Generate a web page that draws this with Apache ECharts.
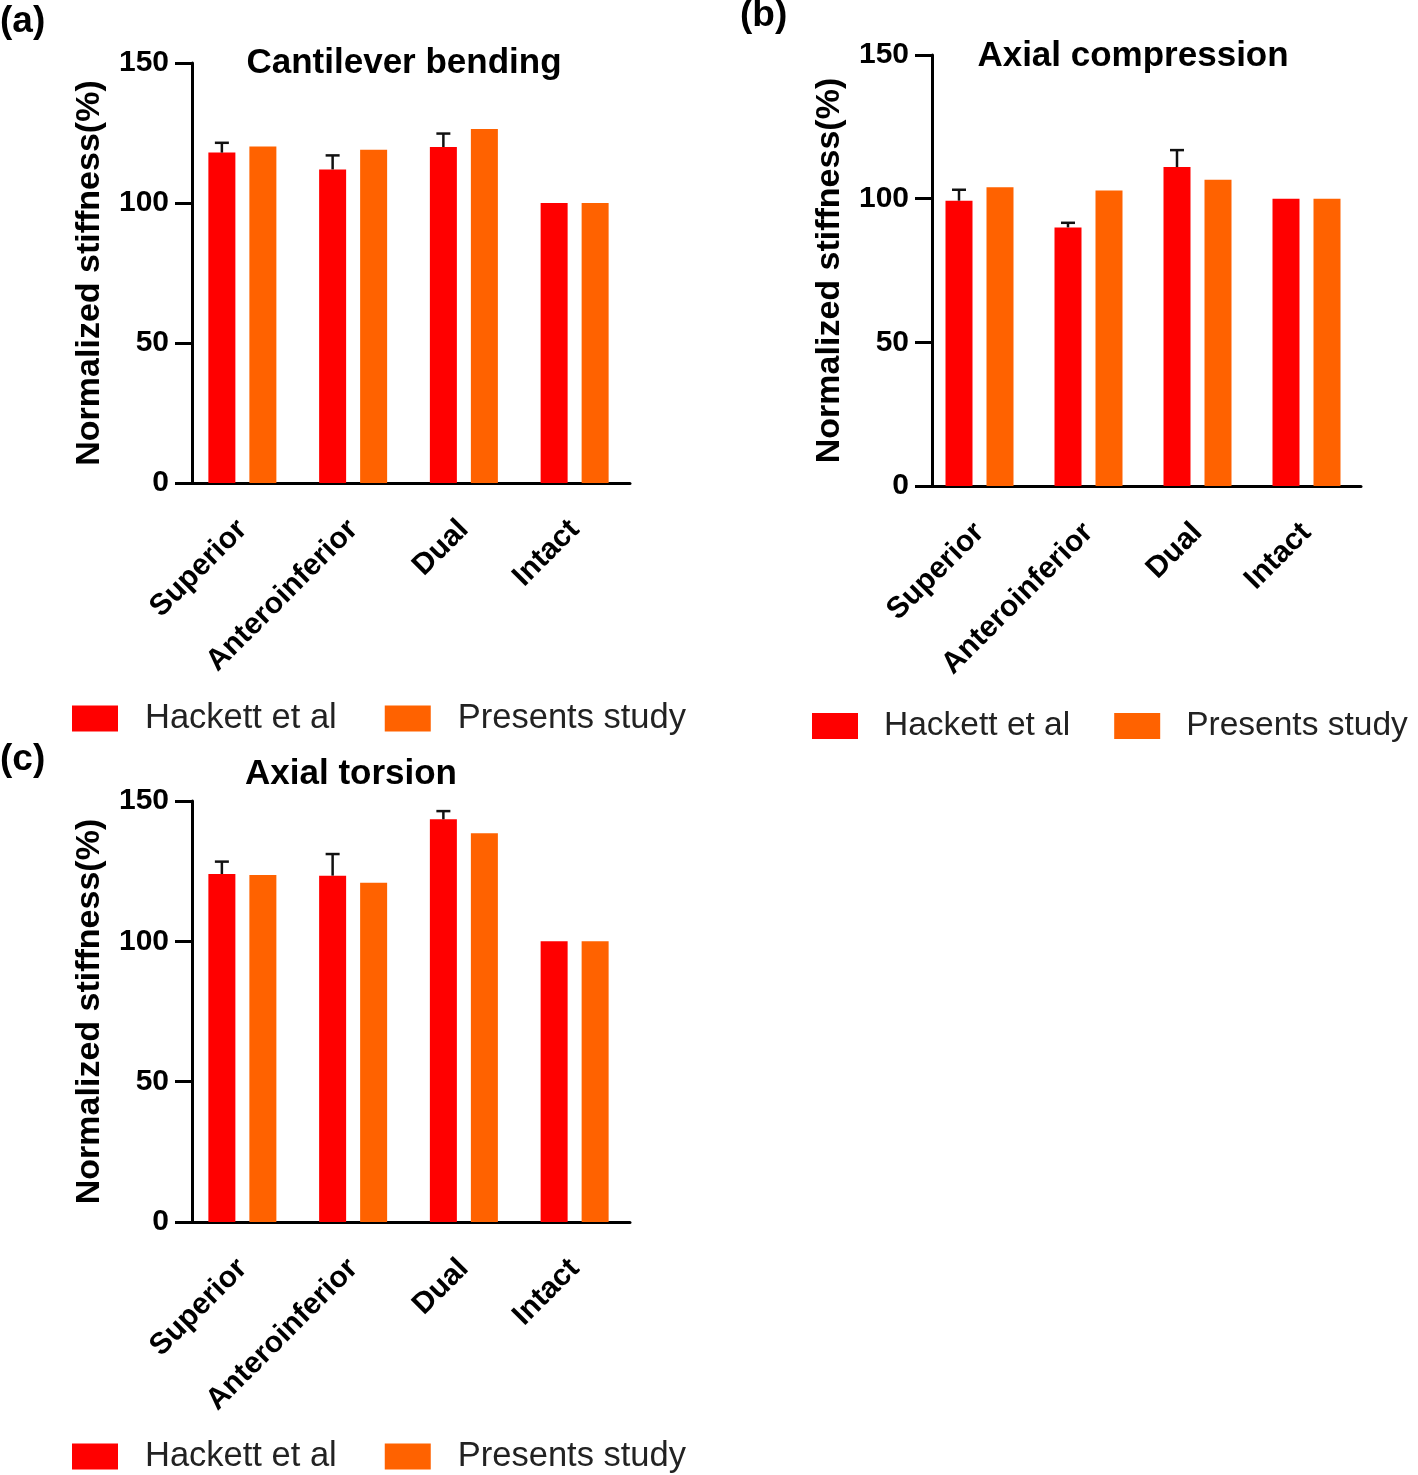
<!DOCTYPE html>
<html><head><meta charset="utf-8">
<script src="https://cdn.jsdelivr.net/npm/echarts@6/dist/echarts.min.js"></script>
<style>html,body{margin:0;padding:0;background:#fff}#c{width:1418px;height:1475px}</style>
</head><body><div id="c"></div>
<script>
const categories = ['Superior', 'Anteroinferior', 'Dual', 'Intact'];
const yTicks = [0, 50, 100, 150];
const seriesNames = ['Hackett et al', 'Presents study'];
const panelTitles = ['Cantilever bending', 'Axial compression', 'Axial torsion'];
const panelLetters = ['(a)', '(b)', '(c)'];
const yName = 'Normalized stiffness(%)';

const bendHackett = [118, 112, 120, 100];
const bendHackettErr = [3.5, 5, 4.8, 0];
const bendPresent = [120.2, 119, 126.4, 100];

const compHackett = [99.3, 90, 111, 100];
const compHackettErr = [3.8, 1.6, 5.9, 0];
const compPresent = [104, 102.8, 106.6, 100];

const torsHackett = [124, 123.4, 143.5, 100];
const torsHackettErr = [4.4, 7.7, 2.9, 0];
const torsPresent = [123.6, 120.9, 138.5, 100];

const RED = '#ff0000', ORANGE = '#ff6200';
const FONT = '"Liberation Sans", Arial, sans-serif';
const BAR_W = 27, BAR_GAP = 14;

const panels = [
  {h: bendHackett, e: bendHackettErr, p: bendPresent, grid: {left: 187, top: 63, width: 443, height: 420}, yOff: -5},
  {h: compHackett, e: compHackettErr, p: compPresent, grid: {left: 925, top: 55, width: 436, height: 431}, yOff: -7},
  {h: torsHackett, e: torsHackettErr, p: torsPresent, grid: {left: 187, top: 801, width: 443, height: 421}, yOff: -5}
];

function errRender(params, api) {
  const x = api.value(0), v = api.value(1), e = api.value(2);
  if (!e) return null;
  const p0 = api.coord([x, v]);
  const p1 = api.coord([x, v + e]);
  const cx = p0[0] - (BAR_W + BAR_GAP) / 2;
  const st = {stroke: '#111', lineWidth: 2.5};
  return {type: 'group', children: [
    {type: 'line', shape: {x1: cx, y1: p0[1], x2: cx, y2: p1[1]}, style: st},
    {type: 'line', shape: {x1: cx - 7, y1: p1[1], x2: cx + 7, y2: p1[1]}, style: st}
  ]};
}

const grids = [], xAxes = [], yAxes = [], series = [];
panels.forEach((pn, i) => {
  grids.push(Object.assign({containLabel: false}, pn.grid));
  xAxes.push({
    type: 'category', gridIndex: i, data: categories,
    axisLine: {lineStyle: {color: '#000', width: 3}},
    axisTick: {alignWithLabel: true, length: 17, lineStyle: {color: '#000', width: 3}},
    axisLabel: {rotate: 45, margin: 42, color: '#000', fontFamily: FONT, fontWeight: 'bold', fontSize: 30, interval: 0},
    splitLine: {show: false}
  });
  yAxes.push({
    type: 'value', gridIndex: i, min: yTicks[0], max: yTicks[yTicks.length - 1], interval: 50,
    offset: pn.yOff,
    name: yName, nameLocation: 'middle', nameGap: 85,
    nameTextStyle: {color: '#000', fontFamily: FONT, fontWeight: 'bold', fontSize: 34},
    axisLine: {show: true, lineStyle: {color: '#000', width: 3}},
    axisTick: {show: true, length: 17, lineStyle: {color: '#000', width: 3}},
    axisLabel: {margin: 23, color: '#000', fontFamily: FONT, fontWeight: 'bold', fontSize: 30},
    splitLine: {show: false}
  });
  series.push({
    name: seriesNames[0], type: 'bar', xAxisIndex: i, yAxisIndex: i, data: pn.h,
    barWidth: BAR_W, barGap: (BAR_GAP / BAR_W * 100) + '%', itemStyle: {color: RED}
  });
  series.push({
    name: seriesNames[1], type: 'bar', xAxisIndex: i, yAxisIndex: i, data: pn.p,
    barWidth: BAR_W, barGap: (BAR_GAP / BAR_W * 100) + '%', itemStyle: {color: ORANGE}
  });
  series.push({
    name: 'err' + i, type: 'custom', xAxisIndex: i, yAxisIndex: i, z: 5,
    data: pn.h.map((v, k) => [k, v, pn.e[k]]),
    renderItem: errRender, silent: true
  });
});

const legendBase = {
  data: seriesNames, icon: 'rect', itemWidth: 46, itemHeight: 26, itemGap: 48, padding: 0,
  selectedMode: false, width: 700,
  textStyle: {color: '#222', fontFamily: FONT, fontSize: 34.5, padding: [0, 0, 0, 22]}
};
const legends = [
  Object.assign({}, legendBase, {left: 72, top: 701}),
  Object.assign({}, legendBase, {left: 812, top: 709, itemGap: 44,
    textStyle: {color: '#222', fontFamily: FONT, fontSize: 33.5, padding: [0, 0, 0, 21]}}),
  Object.assign({}, legendBase, {left: 72, top: 1439})
];

const titleStyle = {color: '#000', fontFamily: FONT, fontWeight: 'bold', fontSize: 35};
const letterStyle = {color: '#000', fontFamily: FONT, fontWeight: 'bold', fontSize: 37};
const titles = [
  {text: panelTitles[0], left: 404, top: 46, textAlign: 'center', textStyle: titleStyle, padding: 0},
  {text: panelTitles[1], left: 1133, top: 39, textAlign: 'center', textStyle: titleStyle, padding: 0},
  {text: panelTitles[2], left: 351, top: 757, textAlign: 'center', textStyle: titleStyle, padding: 0},
  {text: panelLetters[0], left: 0, top: 3, textStyle: letterStyle, padding: 0},
  {text: panelLetters[1], left: 740, top: -3, textStyle: letterStyle, padding: 0},
  {text: panelLetters[2], left: 0, top: 741, textStyle: letterStyle, padding: 0}
];

const chart = echarts.init(document.getElementById('c'), null, {renderer: 'canvas'});
chart.setOption({
  backgroundColor: '#fff', animation: false,
  title: titles, legend: legends, grid: grids, xAxis: xAxes, yAxis: yAxes, series: series
});
</script></body></html>
